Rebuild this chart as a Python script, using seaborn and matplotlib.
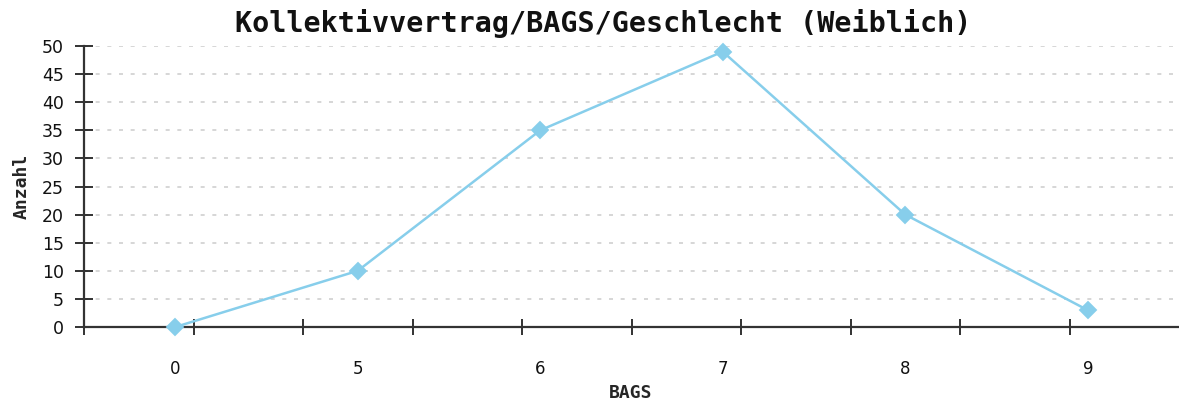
import numpy as np
import pandas as pd
import matplotlib
matplotlib.use("Agg")
import matplotlib.pyplot as plt
from matplotlib.ticker import FixedLocator
import seaborn as sns

categories = ["0", "5", "6", "7", "8", "9"]
values = [0, 10, 35, 49, 20, 3]
title = "Kollektivvertrag/BAGS/Geschlecht (Weiblich)"
xlabel = "BAGS"
ylabel = "Anzahl"

sns.set_style("white")
plt.rcParams["font.family"] = ["DejaVu Sans"]

W, H = 1179, 405
fig = plt.figure(figsize=(W / 100, H / 100), dpi=100)
ax = fig.add_axes([84 / W, 1 - 327 / H, (W - 84) / W, (327 - 46) / H])

df = pd.DataFrame({"cat": categories, "val": values})
color = "#87CEEB"
sns.pointplot(data=df, x="cat", y="val", ax=ax, color=color, markers="D",
              linestyles="-", errorbar=None, markersize=8.5, linewidth=1.8)
for ln in ax.lines:
    ln.set_clip_on(False)
    ln.set_zorder(5)
for c in ax.collections:
    c.set_clip_on(False)
    c.set_zorder(5)

ax.set_xlim(-0.5, 5.5)
ax.set_ylim(0, 50)
ax.set_yticks(np.arange(0, 51, 5))

# horizontal dashed grid
ax.yaxis.grid(True, color="#cfcfcf", linewidth=1.2, linestyle=(0, (2.4, 4.6)))
ax.xaxis.grid(False)
ax.set_axisbelow(True)

for s in ["top", "right"]:
    ax.spines[s].set_visible(False)
for s in ["left", "bottom"]:
    ax.spines[s].set_color("#333333")
    ax.spines[s].set_linewidth(1.6)

# x: labels at categories without marks, tick marks on regular grid
ax.set_xticks(range(len(categories)))
ax.set_xticklabels(categories)
ax.xaxis.set_minor_locator(FixedLocator([-0.5 + 0.6 * k for k in range(10)]))
ax.tick_params(axis="x", which="major", bottom=True, length=0, pad=24, labelsize=12, labelcolor="#111111")
ax.tick_params(axis="x", which="minor", bottom=True, length=12, direction="inout", width=1.3, color="#222222")
ax.tick_params(axis="y", which="major", left=True, length=13, direction="inout", width=1.3, color="#222222",
               pad=8, labelsize=12.5, labelcolor="#111111")

ax.set_xlabel(xlabel, fontsize=13, fontweight="bold", family="DejaVu Sans Mono")
ax.set_ylabel(ylabel, fontsize=13, fontweight="bold", family="DejaVu Sans Mono")
ax.xaxis.label.set_va("center")
ax.yaxis.label.set_va("center")
ax.xaxis.set_label_coords((631 - 84) / (W - 84), -(393 - 327) / (327 - 46))
ax.yaxis.set_label_coords(-(84 - 22) / (W - 84), 0.5)

fig.text(603 / W, 1 - 23 / H, title, ha="center", va="center", fontsize=20.4,
         fontweight="bold", family="DejaVu Sans Mono", color="#111111")

fig.savefig("out.png", dpi=100)
